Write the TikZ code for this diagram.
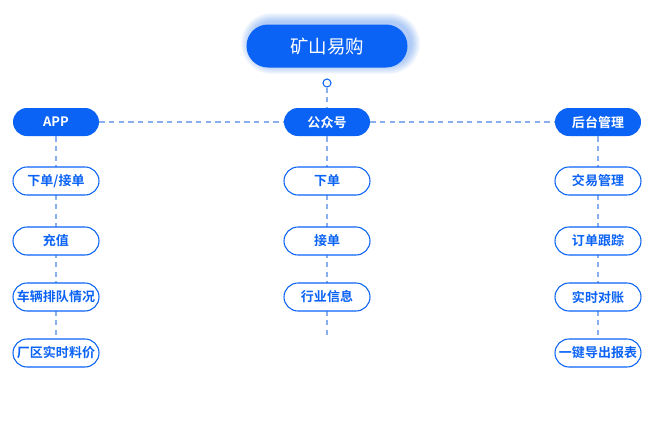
\documentclass[tikz,border=0pt]{standalone}
\usepackage{fontspec}
\setmainfont{Noto Sans CJK SC}[BoldFont={Noto Sans CJK SC Bold}]
\usetikzlibrary{positioning,calc}
\definecolor{azul}{HTML}{0B63F6}
\definecolor{linha}{HTML}{8AAFEE}

\begin{document}
\begin{tikzpicture}[x=0.02cm, y=-0.02cm]
            % Estilos
            \tikzstyle{topo}=[rounded corners=21.5*0.02cm, fill=azul, text=white, minimum width=161*0.02cm, minimum height=43*0.02cm, inner sep=0pt, font=\fontsize{10.5}{12}\selectfont]
            \tikzstyle{grupo}=[rounded corners=14*0.02cm, fill=azul, text=white, minimum width=86*0.02cm, minimum height=28*0.02cm, inner sep=0pt, font=\fontsize{7.4}{9}\selectfont\bfseries]
            \tikzstyle{item}=[rounded corners=14*0.02cm, draw=azul, line width=0.6pt, fill=white, text=azul, minimum width=86*0.02cm, minimum height=28*0.02cm, inner sep=0pt, font=\fontsize{7.4}{9}\selectfont\bfseries]
            \tikzstyle{tracejado}=[linha, line width=0.7pt, dash pattern=on 3pt off 2.5pt]

            \useasboundingbox[fill=white] (0,0) rectangle (650,430);

            % Brilho do topo
            \foreach \k in {1,...,9}
                \fill[azul, opacity=0.04, rounded corners=(21.5+\k)*0.02cm] (247-\k+3,25-\k-3) rectangle (408+\k+3,68+\k-3);

            % Nos
            \node[topo] (topo) at (327,46) {矿山易购};
            \node[circle, draw=azul, fill=white, line width=0.6pt, minimum size=8*0.02cm, inner sep=0pt] (ponto) at (327,83) {};

            \node[grupo] (app) at (56,122) {APP};
            \node[grupo] (gzh) at (327,122) {公众号};
            \node[grupo] (ht) at (598,122) {后台管理};

            \coordinate (fim) at (327,337);
            \coordinate (fimA) at (56,339);
            \coordinate (fimH) at (598,339);

            % Arestas
            \draw[tracejado] (ponto) -- (gzh);
            \draw[tracejado] (app) -- (gzh);
            \draw[tracejado] (gzh) -- (ht);
            \draw[tracejado] (app) -- (fimA);
            \draw[tracejado] (gzh) -- (fim);
            \draw[tracejado] (ht) -- (fimH);

            \node[item] (a1) at (56,181) {下单/接单};
            \node[item] (a2) at (56,241) {充值};
            \node[item] (a3) at (56,297) {车辆排队情况};
            \node[item] (a4) at (56,353) {厂区实时料价};

            \node[item] (g1) at (327,181) {下单};
            \node[item] (g2) at (327,241) {接单};
            \node[item] (g3) at (327,297) {行业信息};

            \node[item] (h1) at (598,181) {交易管理};
            \node[item] (h2) at (598,241) {订单跟踪};
            \node[item] (h3) at (598,297) {实时对账};
            \node[item] (h4) at (598,353) {一键导出报表};
        \end{tikzpicture}
\end{document}
